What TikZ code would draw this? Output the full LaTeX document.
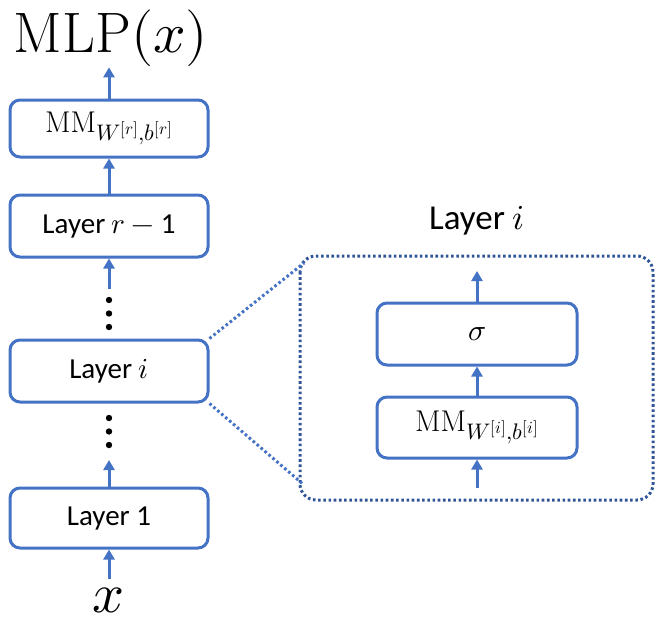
\documentclass[tikz,border=0pt]{standalone}
\usepackage{fontspec}
\usepackage{unicode-math}
\setsansfont{Carlito}
\setmathfont{Latin Modern Math}
% larger script sizes for the matrix-multiply labels
\DeclareMathSizes{30}{30}{22.5}{17}
\usetikzlibrary{arrows.meta}
\definecolor{boxblue}{HTML}{4472C4}
\definecolor{framedark}{HTML}{2F5597}
\tikzset{
  blk/.style={draw=boxblue, line width=3pt, rounded corners=10pt, fill=white,
    minimum width=198pt, inner sep=0pt, align=center},
  arr/.style={draw=boxblue, line width=3pt,
    -{Triangle[width=11pt,length=10pt]}},
  lbl/.style={font=\sffamily\fontsize{29}{34}\selectfont},
  mth/.style={font=\fontsize{30}{34}\selectfont},
  vdot/.style={fill=black},
  dotline/.style={line width=3pt, dash pattern=on 2.6pt off 2.6pt},
}
\begin{document}
\begin{tikzpicture}[x=1pt,y=-1pt]
\useasboundingbox (0,0) rectangle (658,624);

% main stack
\node[font=\fontsize{57}{60}\selectfont, inner sep=1pt, anchor=base] (mlp) at (111,52) {$\mathrm{MLP}(x)$};
\node[blk, mth, minimum height=57pt] (mm) at (109,128.5) {$\mathrm{MM}_{W^{[r]},b^{[r]}}$};
\node[blk, lbl, minimum height=62pt] (lr1) at (109,226) {Layer $r-{}$1};
\node[blk, lbl, minimum height=62pt] (li) at (109,371) {Layer $i$};
\node[blk, lbl, minimum height=60pt] (l1) at (109,518) {Layer 1};
\node[font=\fontsize{56}{60}\selectfont, inner sep=0pt, anchor=base] (xin) at (109,612) {$x$};

\draw[arr] (mm.north) -- (mm.north |- mlp.south);
\draw[arr] (lr1.north) -- (mm.south);
\coordinate (dA) at (109,289);
\draw[arr] (dA) -- (lr1.south);
\coordinate (dB) at (109,460);
\draw[arr] (l1.north) -- (dB);
\draw[arr, shorten <=8pt] (xin.north) -- (l1.south);

% vertical ellipses
\foreach \y in {300,313.5,327} \fill[vdot] (109,\y) circle (3.2pt);
\foreach \y in {418,431.5,445} \fill[vdot] (109,\y) circle (3.2pt);

% expanded view of one layer
\node[font=\sffamily\fontsize{35}{40}\selectfont] (ttl) at (477,221) {Layer $i$};
\draw[framedark, dotline, rounded corners=16pt] (300,256) rectangle (653,500);
\coordinate (fnw) at (304,263);
\coordinate (fsw) at (304,485);
\draw[boxblue, dotline] (li.north east) -- (fnw);
\draw[boxblue, dotline] (li.south east) -- (fsw);

\node[blk, mth, minimum width=200pt, minimum height=62pt] (sig) at (477,334) {$\sigma$};
\node[blk, mth, minimum width=200pt, minimum height=61pt] (mmi) at (477,427.5) {$\mathrm{MM}_{W^{[i]},b^{[i]}}$};
\coordinate (sigout) at (477,271);
\coordinate (mmin) at (477,488);
\draw[arr] (sig.north) -- (sigout);
\draw[arr] (mmi.north) -- (sig.south);
\draw[arr] (mmin) -- (mmi.south);
\end{tikzpicture}
\end{document}
